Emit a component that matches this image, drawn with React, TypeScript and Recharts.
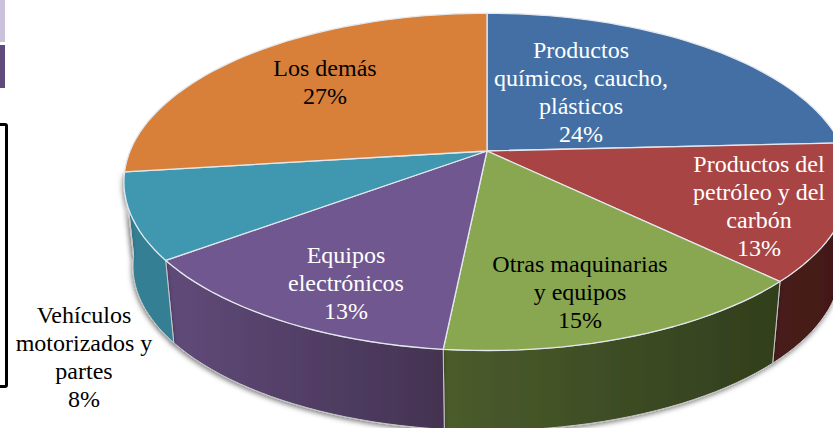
import React from 'react';
import { PieChart, Pie } from 'recharts';

const categories = [
  'Productos químicos, caucho, plásticos',
  'Productos del petróleo y del carbón',
  'Otras maquinarias y equipos',
  'Equipos electrónicos',
  'Vehículos motorizados y partes',
  'Los demás',
];
// the printed labels are rounded, these follow the slice widths in the picture
const shares = [24.2, 13.1, 14.3, 13.2, 8.2, 27];
const labelLines = [
  ['Productos', 'químicos, caucho,', 'plásticos', '24%'],
  ['Productos del', 'petróleo y del', 'carbón', '13%'],
  ['Otras maquinarias', 'y equipos', '15%'],
  ['Equipos', 'electrónicos', '13%'],
  ['Vehículos', 'motorizados y', 'partes', '8%'],
  ['Los demás', '27%'],
];

const topColors = ['#436fa5', '#a84544', '#89a650', '#71578f', '#4097b0', '#d8803a'];
const wallColors = ['#2c4a6e', 'url(#wallRed)', 'url(#wallGreen)', 'url(#wallPurple)', '#357f94', '#8f5526'];
const labelColors = ['#fff', '#fff', '#000', '#fff', '#000', '#000'];
// x centre and first baseline of each label block
const labelAnchors = [
  [581, 58],
  [759, 172],
  [580, 272],
  [346, 263],
  [84, 323],
  [325, 76],
];

const pieData = categories.map((name, i) => ({ name, value: shares[i], fill: topColors[i] }));
const wallData = categories.map((name, i) => ({ name, value: shares[i], fill: wallColors[i] }));

const CX = 487;
const CY = 151;
const R = 357;
const TILT = 163 / 357; // vertical squash of the disc
const PERSPECTIVE = 0.183; // front of the disc is nearer than the back
const WALL_SCALE = 0.975;
const WALL_DROP = 85;
const WALL_END = 263; // the orange slice shows no wall
const LINE_HEIGHT = 27.9;

// point on the top face rim, clock angle in degrees (0 = back, 90 = right)
const rim = (clock: number, cx: number, cy: number, r: number) => {
  const a = (clock * Math.PI) / 180;
  const u = Math.sin(a);
  const v = -Math.cos(a);
  const s = 1 / (1 - PERSPECTIVE * v);
  return [cx + r * u * s, cy + r * TILT * v * s];
};

const lowerRim = (clock: number, cx: number, cy: number, r: number) => {
  const [x, y] = rim(clock, cx, cy, r);
  return [cx + (x - cx) * WALL_SCALE, cy + WALL_DROP + (y - cy) * WALL_SCALE];
};

const arcPoints = (from: number, to: number, fn: (c: number) => number[]) => {
  const pts: number[][] = [];
  const steps = Math.max(2, Math.ceil((to - from) / 2));
  for (let i = 0; i <= steps; i++) pts.push(fn(from + ((to - from) * i) / steps));
  return pts;
};

const toPath = (pts: number[][]) =>
  pts.map((p, i) => `${i ? 'L' : 'M'}${p[0].toFixed(1)} ${p[1].toFixed(1)}`).join(' ');

const TopSlice = (props: any) => {
  const { cx, cy, outerRadius, startAngle, endAngle, fill } = props;
  const from = 90 - startAngle;
  const to = 90 - endAngle;
  const pts = arcPoints(from, to, (c) => rim(c, cx, cy, outerRadius));
  return <path d={`M${cx} ${cy} ${toPath(pts).replace('M', 'L')} Z`} fill={fill} stroke="#e4e8ee" strokeWidth={1.3} strokeLinejoin="round" />;
};

const WallSlice = (props: any) => {
  const { cx, cy, outerRadius, startAngle, endAngle, fill } = props;
  const from = Math.max(90 - startAngle, 90);
  const to = Math.min(90 - endAngle, WALL_END);
  if (to <= from) return <g />;
  const upper = arcPoints(from, to, (c) => rim(c, cx, cy, outerRadius));
  const lower = arcPoints(from, to, (c) => lowerRim(c, cx, cy, outerRadius)).reverse();
  return <path d={`${toPath(upper)} ${toPath(lower).replace('M', 'L')} Z`} fill={fill} stroke="#c8c8c8" strokeWidth={1} filter="url(#wallShadow)" />;
};

const renderLabel = (props: any) => {
  const i = props.index;
  const [x, y] = labelAnchors[i];
  return (
    <text key={i} x={x} y={y} textAnchor="middle" fill={labelColors[i]} fontFamily="'Liberation Serif', serif" fontSize={24}>
      {labelLines[i].map((line, n) => (
        <tspan key={n} x={x} y={y + n * LINE_HEIGHT}>{line}</tspan>
      ))}
    </text>
  );
};

export default function App() {
  return (
    <div style={{ position: 'fixed', left: 0, top: 0, width: 833, height: 428, overflow: 'hidden', background: '#fff' }}>
      {/* leftovers of the slide behind the picture */}
      <div style={{ position: 'absolute', left: 0, top: 0, width: 5, height: 42, background: '#ccc1da' }} />
      <div style={{ position: 'absolute', left: 0, top: 45, width: 5, height: 43, background: '#604a7b' }} />
      <div style={{ position: 'absolute', left: -20, top: 123, width: 22, height: 259, border: '3px solid #000', borderRadius: 3 }} />

      <PieChart width={833} height={428} margin={{ top: 0, right: 0, bottom: 0, left: 0 }} style={{ position: 'absolute', left: 0, top: 0 }}>
        <defs>
          <linearGradient id="wallPurple" gradientUnits="userSpaceOnUse" x1="167" y1="0" x2="443" y2="0">
            <stop offset="0%" stopColor="#604a79" />
            <stop offset="100%" stopColor="#443352" />
          </linearGradient>
          <linearGradient id="wallGreen" gradientUnits="userSpaceOnUse" x1="443" y1="0" x2="780" y2="0">
            <stop offset="0%" stopColor="#4b5c2c" />
            <stop offset="100%" stopColor="#313e1d" />
          </linearGradient>
          <linearGradient id="wallRed" gradientUnits="userSpaceOnUse" x1="775" y1="0" x2="833" y2="0">
            <stop offset="0%" stopColor="#4a1d1b" />
            <stop offset="100%" stopColor="#421917" />
          </linearGradient>
          <filter id="wallShadow" x="-20%" y="-20%" width="140%" height="140%">
            <feDropShadow dx="-1" dy="2" stdDeviation="2.5" floodColor="#000" floodOpacity="0.5" />
          </filter>
        </defs>
        <Pie
          data={wallData}
          dataKey="value"
          cx={CX}
          cy={CY}
          outerRadius={R}
          startAngle={90}
          endAngle={-270}
          shape={WallSlice}
          isAnimationActive={false}
        />
        <Pie
          data={pieData}
          dataKey="value"
          cx={CX}
          cy={CY}
          outerRadius={R}
          startAngle={90}
          endAngle={-270}
          shape={TopSlice}
          label={renderLabel}
          labelLine={false}
          isAnimationActive={false}
        />
      </PieChart>
    </div>
  );
}
